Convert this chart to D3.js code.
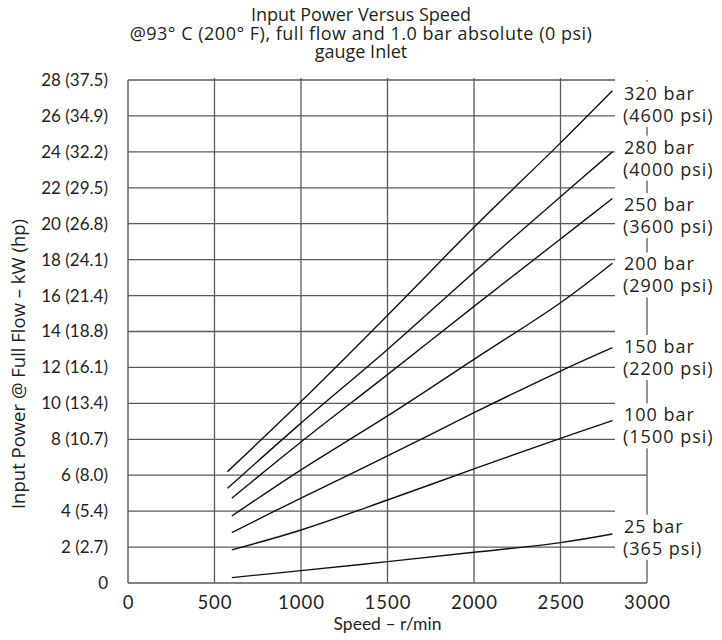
<!DOCTYPE html>
<html>
<head>
<meta charset="utf-8">
<script src="https://cdn.jsdelivr.net/npm/d3@7"></script>
<style>
  html, body { margin: 0; padding: 0; background: #fff; }
  svg { display: block; }
  text { font-family: Lato, "Open Sans", sans-serif; fill: #231f20; }
  .os { font-family: "Open Sans", "Noto Sans", sans-serif; }
</style>
</head>
<body>
<svg id="chart" width="722" height="640"></svg>
<script>
// ---- data ----
const titleLines = ["Input Power Versus Speed",
  "@93° C (200° F), full flow and 1.0 bar absolute (0 psi)",
  "gauge Inlet"];
const xTicks = [0, 500, 1000, 1500, 2000, 2500, 3000];
const yTicksKW = [0, 2, 4, 6, 8, 10, 12, 14, 16, 18, 20, 22, 24, 26, 28];
const yTicksHP = ["", "2.7", "5.4", "8.0", "10.7", "13.4", "16.1", "18.8", "21.4", "24.1", "26.8", "29.5", "32.2", "34.9", "37.5"];
const speedsHigh = [575, 1000, 1500, 2000, 2500, 2800];
const speedsLow = [600, 1000, 1500, 2000, 2500, 2800];
const seriesNames = ["320 bar", "280 bar", "250 bar", "200 bar", "150 bar", "100 bar", "25 bar"];
const seriesPsi = ["(4600 psi)", "(4000 psi)", "(3600 psi)", "(2900 psi)", "(2200 psi)", "(1500 psi)", "(365 psi)"];
const p320 = [6.2, 10.1, 14.9, 19.8, 24.5, 27.4];
const p280 = [5.27, 8.9, 13.0, 17.3, 21.5, 24.0];
const p250 = [4.72, 7.85, 11.6, 15.4, 19.15, 21.4];
const p200 = [3.73, 6.3, 9.3, 12.45, 15.6, 17.8];
const p150 = [2.8, 4.73, 7.07, 9.48, 11.8, 13.1];
const p100 = [1.84, 2.95, 4.62, 6.35, 8.05, 9.04];
const p25 = [0.3, 0.69, 1.19, 1.71, 2.25, 2.73];
const seriesValues = [p320, p280, p250, p200, p150, p100, p25];
const seriesSpeeds = [speedsHigh, speedsHigh, speedsLow, speedsLow, speedsLow, speedsLow, speedsLow];
// label baseline positions expressed in kW units (where the label pair sits)
const labelLevelKW = [26.9, 23.9, 20.7, 17.4, 12.8, 9.0, 2.8];

// ---- layout ----
const svg = d3.select("#chart");
const x = d3.scaleLinear().domain([0, 3000]).range([128, 647]);
const y = d3.scaleLinear().domain([0, 28]).range([583, 80]);
const gridEndSpeed = 2815;
const gridColor = "#5a5a5a";

// horizontal gridlines
const g = svg.append("g");
g.selectAll("line.h").data(yTicksKW.filter(v => v > 0)).join("line")
  .attr("x1", x(0))
  .attr("x2", d => d === 6 ? x(3000) : x(gridEndSpeed))
  .attr("y1", d => y(d)).attr("y2", d => y(d))
  .attr("stroke", gridColor).attr("stroke-width", 1.3);
// vertical gridlines
g.selectAll("line.v").data(xTicks.filter(v => v > 0 && v < 3000)).join("line")
  .attr("x1", d => x(d)).attr("x2", d => x(d))
  .attr("y1", y(0)).attr("y2", y(28) - 2)
  .attr("stroke", gridColor).attr("stroke-width", 1.3);
// axes
g.append("line").attr("x1", x(0)).attr("x2", x(0)).attr("y1", y(0)).attr("y2", y(28))
  .attr("stroke", gridColor).attr("stroke-width", 1.4);
g.append("line").attr("x1", x(0)).attr("x2", x(3000)).attr("y1", y(0)).attr("y2", y(0))
  .attr("stroke", gridColor).attr("stroke-width", 1.4);
g.append("line").attr("x1", x(3000)).attr("x2", x(3000)).attr("y1", y(0)).attr("y2", y(28))
  .attr("stroke", gridColor).attr("stroke-width", 1.3);

// series lines
const line = d3.line().curve(d3.curveCatmullRom.alpha(0.5));
seriesValues.forEach((vals, i) => {
  const pts = vals.map((v, j) => [x(seriesSpeeds[i][j]), y(v)]);
  svg.append("path").attr("d", line(pts))
    .attr("fill", "none").attr("stroke", "#111").attr("stroke-width", 1.4);
});

// right labels with white masks
const lab = svg.append("g");
seriesNames.forEach((name, i) => {
  const b1 = y(labelLevelKW[i]);
  const b2 = b1 + 22;
  lab.append("rect").attr("x", 619).attr("y", b1 - 18).attr("width", 103).attr("height", b2 - b1 + 23)
    .attr("fill", "#fff");
  lab.append("text").attr("class", "os").attr("x", 624).attr("y", b1)
    .attr("font-size", 18).attr("letter-spacing", 1.0).text(name);
  lab.append("text").attr("class", "os").attr("x", 623).attr("y", b2)
    .attr("font-size", 18).attr("letter-spacing", 1.0).text(seriesPsi[i]);
});

// y tick labels
svg.append("g").selectAll("text").data(yTicksKW).join("text")
  .attr("x", 108).attr("y", d => y(d)).attr("dy", "0.35em")
  .attr("text-anchor", "end").attr("font-size", 17)
  .text((d, i) => yTicksHP[i] ? `${d} (${yTicksHP[i]})` : `${d}`);

// x tick labels
svg.append("g").selectAll("text").data(xTicks).join("text")
  .attr("x", d => x(d) + 0.5).attr("y", 609)
  .attr("text-anchor", "middle").attr("font-size", 18.5).attr("letter-spacing", 1.0)
  .text(d => d);

// axis titles
svg.append("text").attr("x", x(1500)).attr("y", 630).attr("text-anchor", "middle")
  .attr("font-size", 17.5).text("Speed – r/min");
svg.append("text").attr("class", "os").attr("transform", "translate(25,364) rotate(-90)")
  .attr("text-anchor", "middle").attr("font-size", 18.5)
  .text("Input Power @ Full Flow – kW (hp)");

// title
svg.append("g").selectAll("text").data(titleLines).join("text")
  .attr("class", "os")
  .attr("x", 361).attr("y", (d, i) => 21 + i * 18.5)
  .attr("text-anchor", "middle").attr("font-size", 18)
  .attr("letter-spacing", (d, i) => i === 1 ? 0.5 : 0)
  .text(d => d);
</script>
</body>
</html>
